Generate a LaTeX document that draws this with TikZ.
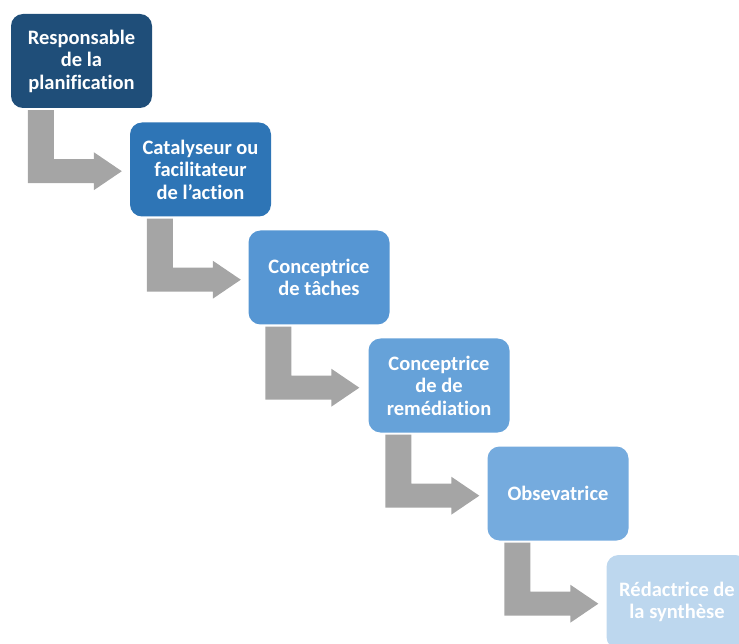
\documentclass[tikz,border=0pt]{standalone}
\usepackage{fontspec}
\setmainfont{Carlito}[Ligatures=NoCommon]
\usetikzlibrary{calc}
\definecolor{cA}{HTML}{1F4E79}
\definecolor{cB}{HTML}{2E75B6}
\definecolor{cC}{HTML}{5696D3}
\definecolor{cD}{HTML}{66A2D9}
\definecolor{cE}{HTML}{75ABDE}
\definecolor{cF}{HTML}{BDD7EE}
\definecolor{arrowgray}{HTML}{A5A5A5}
\newcommand\bentarrow[1]{%
  \fill[bentfill] ($(#1.south west)+(17,2)$) -- ($(#1.south west)+(43,2)$) -- ($(#1.south west)+(43,51)$) -- ($(#1.south west)+(83,51)$) -- ($(#1.south west)+(83,44)$) -- ($(#1.south west)+(111,63)$) -- ($(#1.south west)+(83,82)$) -- ($(#1.south west)+(83,75)$) -- ($(#1.south west)+(17,75)$) -- cycle;}
\begin{document}
\begin{tikzpicture}[x=1pt,y=-1pt,
  box/.style={rounded corners=12pt, minimum width=141pt, minimum height=94pt, inner sep=0pt, align=center, text=white, font=\fontsize{20.5}{22.5}\selectfont\bfseries},
  bentfill/.style={fill=arrowgray, draw=none}]
\useasboundingbox (0,0) rectangle (739,644);
\node[box, fill=cA] (b1) at (81.5,61) {Responsable\\de la\\planification};
\node[box, fill=cB] (b2) at (200.5,169.5) {Catalyseur ou\\facilitateur\\de l’action};
\node[box, fill=cC] (b3) at (319,277.5) {Conceptrice\\de tâches};
\node[box, fill=cD] (b4) at (439,385.5) {Conceptrice\\de de\\remédiation};
\node[box, fill=cE] (b5) at (558,493.5) {Obsevatrice};
\node[box, fill=cF] (b6) at (677,602) {Rédactrice de\\la synthèse};
\bentarrow{b1}
\bentarrow{b2}
\bentarrow{b3}
\bentarrow{b4}
\bentarrow{b5}
\end{tikzpicture}
\end{document}
